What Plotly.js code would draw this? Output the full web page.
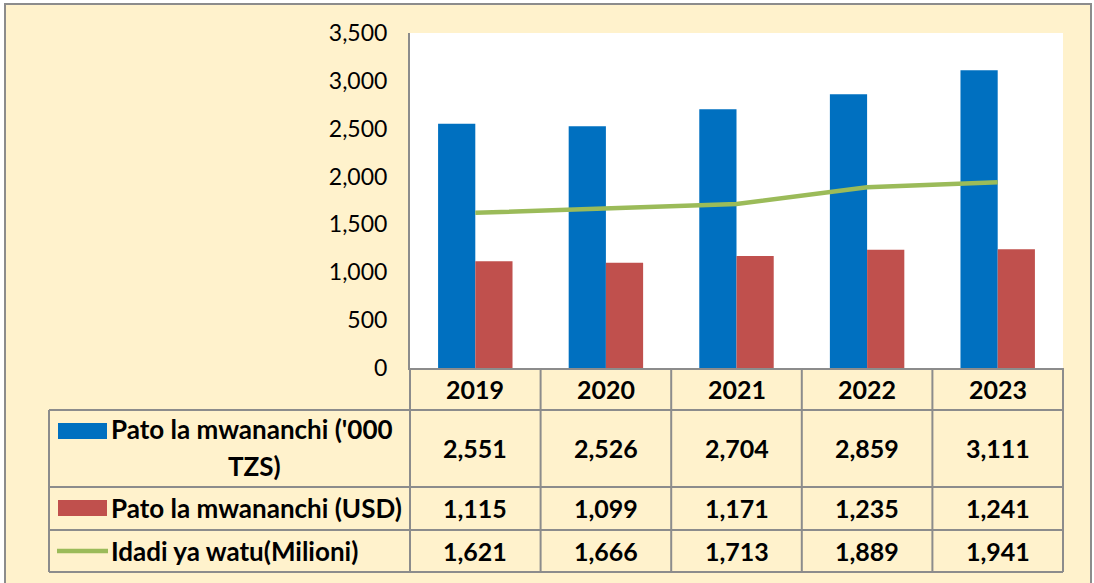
<!DOCTYPE html>
<html>
<head>
<meta charset="utf-8">
<script src="https://cdn.plot.ly/plotly-3.0.1.min.js"></script>
<style>
html,body{margin:0;padding:0;background:#fff;}
#chart{width:1094px;height:583px;}
</style>
</head>
<body>
<div id="chart"></div>
<script>
const categories = ['2019', '2020', '2021', '2022', '2023'];
const patoTZS = [2551, 2526, 2704, 2859, 3111];
const patoUSD = [1115, 1099, 1171, 1235, 1241];
const idadiWatu = [1621, 1666, 1713, 1889, 1941];
const seriesNames = ["Pato la mwananchi ('000 TZS)", "Pato la mwananchi (USD)", "Idadi ya watu(Milioni)"];
const yTicks = [0, 500, 1000, 1500, 2000, 2500, 3000, 3500];

const W = 1094, H = 583;
const L = 410, R = 1063, T = 33, B = 368;
const px = x => (x - L) / (R - L);
const py = y => (B - y) / (B - T);

const cream = '#FFF2CC';
const grid = '#8C8C8C';
const blue = '#0070C0', red = '#C0504D', green = '#9BBB59';
const FONT = 'Lato, "Open Sans", "Liberation Sans", sans-serif';

const fmt = v => v.toLocaleString('en-US');

const traces = [
  {type: 'bar', name: seriesNames[0], x: categories, y: patoTZS, marker: {color: blue, line: {width: 0}}, showlegend: false, hoverinfo: 'none'},
  {type: 'bar', name: seriesNames[1], x: categories, y: patoUSD, marker: {color: red, line: {width: 0}}, showlegend: false, hoverinfo: 'none'},
  {type: 'scatter', mode: 'lines', name: seriesNames[2], x: categories, y: idadiWatu, line: {color: green, width: 4.5}, showlegend: false, hoverinfo: 'none'}
];

// table geometry (pixel rows)
const rowTop = [368, 410, 487, 530, 572];
const legLeft = 49;

const shapes = [
  {type: 'rect', xref: 'paper', yref: 'paper', x0: px(5), x1: px(1091), y0: py(590), y1: py(4), fillcolor: cream, line: {color: '#8C8C8C', width: 2}, layer: 'below'},
  {type: 'rect', xref: 'paper', yref: 'paper', x0: 0, x1: 1, y0: 0, y1: 1, fillcolor: '#FFFFFF', line: {width: 0}, layer: 'below'}
];
for (let i = 1; i < rowTop.length; i++) {
  shapes.push({type: 'line', xref: 'paper', yref: 'paper', x0: px(legLeft), x1: 1, y0: py(rowTop[i]), y1: py(rowTop[i]), line: {color: grid, width: 2}});
}
shapes.push({type: 'line', xref: 'paper', yref: 'paper', x0: px(legLeft), x1: px(legLeft), y0: py(rowTop[1]), y1: py(rowTop[4]), line: {color: grid, width: 2}});
for (let i = 0; i <= categories.length; i++) {
  const xf = i / categories.length;
  shapes.push({type: 'line', xref: 'paper', yref: 'paper', x0: xf, x1: xf, y0: py(rowTop[0]), y1: py(rowTop[4]), line: {color: grid, width: 2}});
}
// legend swatches
shapes.push({type: 'rect', xref: 'paper', yref: 'paper', x0: px(58), x1: px(107), y0: py(439), y1: py(423), fillcolor: blue, line: {width: 0}});
shapes.push({type: 'rect', xref: 'paper', yref: 'paper', x0: px(58), x1: px(107), y0: py(516), y1: py(500), fillcolor: red, line: {width: 0}});
shapes.push({type: 'line', xref: 'paper', yref: 'paper', x0: px(57), x1: px(108), y0: py(551), y1: py(551), line: {color: green, width: 4.5}});

const vf = {family: FONT, size: 25, color: '#000'};
const lf = {family: FONT, size: 26, color: '#000'};
const annotations = [];
const rowCenters = [389, 448, 508, 551];
const rows = [patoTZS, patoUSD, idadiWatu];
categories.forEach((c, i) => {
  const xc = (i + 0.5) / categories.length;
  annotations.push({xref: 'paper', yref: 'paper', x: xc, y: py(rowCenters[0]), text: '<b>' + c + '</b>', showarrow: false, font: vf, xanchor: 'center', yanchor: 'middle'});
  rows.forEach((r, k) => {
    annotations.push({xref: 'paper', yref: 'paper', x: xc, y: py(rowCenters[k + 1]), text: '<b>' + fmt(r[i]) + '</b>', showarrow: false, font: vf, xanchor: 'center', yanchor: 'middle'});
  });
});
annotations.push({xref: 'paper', yref: 'paper', x: px(109), y: py(429), text: "<b>Pato la mwananchi ('000</b>", showarrow: false, font: lf, xanchor: 'left', yanchor: 'middle'});
annotations.push({xref: 'paper', yref: 'paper', x: px(254), y: py(466), text: '<b>TZS)</b>', showarrow: false, font: lf, xanchor: 'center', yanchor: 'middle'});
annotations.push({xref: 'paper', yref: 'paper', x: px(109), y: py(508), text: '<b>' + seriesNames[1] + '</b>', showarrow: false, font: lf, xanchor: 'left', yanchor: 'middle'});
annotations.push({xref: 'paper', yref: 'paper', x: px(109), y: py(551), text: '<b>' + seriesNames[2] + '</b>', showarrow: false, font: lf, xanchor: 'left', yanchor: 'middle'});

const layout = {
  width: W, height: H,
  margin: {l: L, r: W - R, t: T, b: H - B, pad: 0},
  paper_bgcolor: '#FFFFFF',
  plot_bgcolor: '#FFFFFF',
  barmode: 'group',
  bargap: 0.43,
  bargroupgap: 0,
  showlegend: false,
  xaxis: {type: 'category', range: [-0.5, categories.length - 0.5], showticklabels: false, ticks: '', showgrid: false, zeroline: false, showline: true, linecolor: grid, linewidth: 2, fixedrange: true},
  yaxis: {range: [0, 3500], tickvals: yTicks, ticktext: yTicks.map(fmt), ticks: '', showgrid: false, zeroline: false, showline: true, linecolor: grid, linewidth: 2, ticklabelstandoff: 16, tickfont: {family: FONT, size: 23, color: '#000'}, fixedrange: true},
  shapes: shapes,
  annotations: annotations
};

Plotly.newPlot('chart', traces, layout, {displayModeBar: false, staticPlot: true});
</script>
</body>
</html>
